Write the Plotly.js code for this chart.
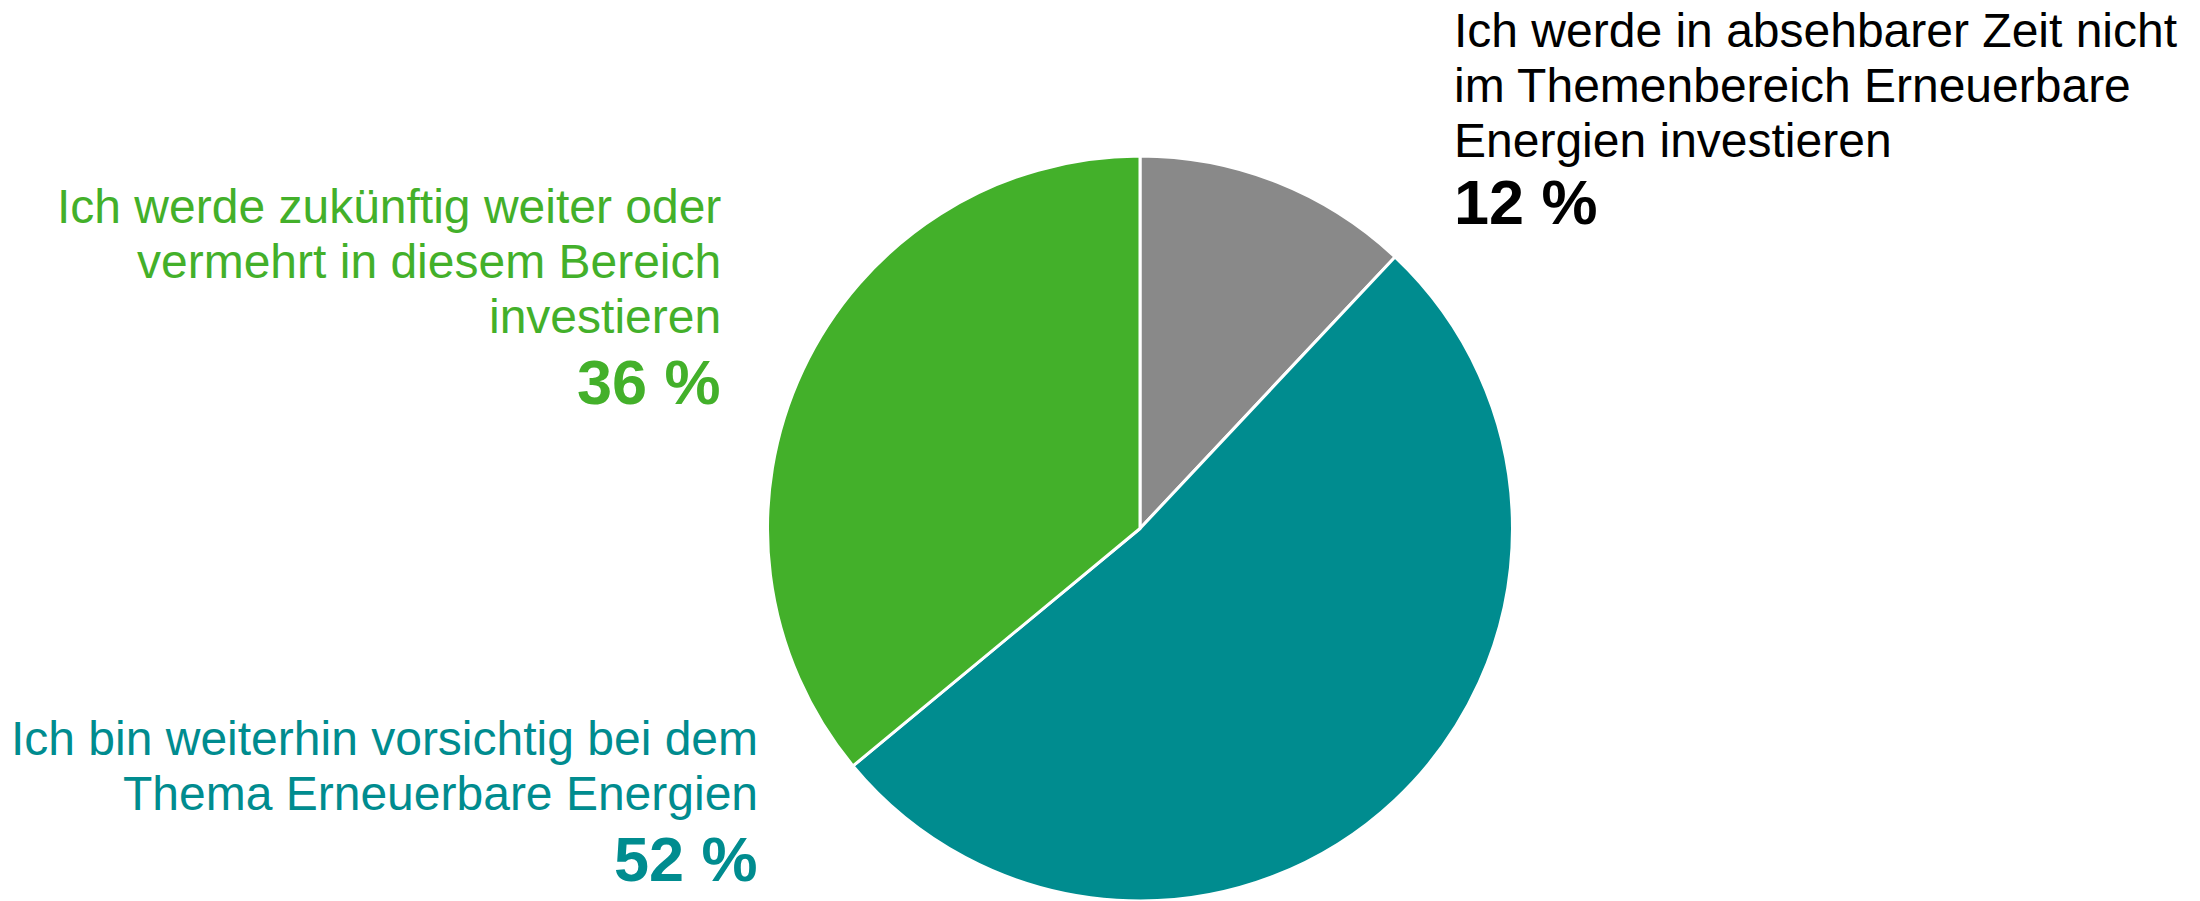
<!DOCTYPE html>
<html>
<head>
<meta charset="utf-8">
<script src="https://cdn.plot.ly/plotly-3.0.1.min.js"></script>
<style>
  html, body { margin: 0; padding: 0; background: #ffffff; }
  #chart { width: 2200px; height: 901px; }
</style>
</head>
<body>
<div id="chart"></div>
<script>
// ---- data ----
const categories = [
  "Ich werde in absehbarer Zeit nicht<br>im Themenbereich Erneuerbare<br>Energien investieren",
  "Ich bin weiterhin vorsichtig bei dem<br>Thema Erneuerbare Energien",
  "Ich werde zukünftig weiter oder<br>vermehrt in diesem Bereich<br>investieren"
];
const values = [12, 52, 36];
const colors = ["#898989", "#008C8F", "#43B02A"];
const labelColors = ["#000000", "#008C8F", "#43B02A"];

// ---- layout helpers (pixel placement of the outside labels) ----
const W = 2200, H = 901;
const FONT = "'Liberation Sans', Arial, sans-serif";
const textSize = 48, pctSize = 63, lineGap = 55;
// anchor: x pixel, align side, first baseline, percent baseline
const labelPlacement = [
  {x: 1454, side: "left",  base: 47,  pctBase: 224},
  {x: 758,  side: "right", base: 755, pctBase: 881},
  {x: 721,  side: "right", base: 223, pctBase: 404}
];

const annotations = [];
function addLine(text, xpx, side, baseline, size, color, bold) {
  const center = baseline - 0.3465 * size;
  annotations.push({
    xref: "paper", yref: "paper",
    x: xpx / W, y: 1 - center / H,
    xanchor: side, yanchor: "middle",
    text: bold ? "<b>" + text + "</b>" : text,
    showarrow: false, borderpad: 0, borderwidth: 0,
    align: side,
    font: {family: FONT, size: size, color: color}
  });
}
categories.forEach((cat, i) => {
  const p = labelPlacement[i];
  cat.split("<br>").forEach((ln, k) => {
    addLine(ln, p.x, p.side, p.base + k * lineGap, textSize, labelColors[i], false);
  });
  addLine(values[i] + " %", p.x, p.side, p.pctBase, pctSize, labelColors[i], true);
});

// pie geometry: centre (1140, 529), radius 373
const cx = 1140, cy = 529, r = 373;
const trace = {
  type: "pie",
  labels: categories,
  values: values,
  sort: false,
  direction: "clockwise",
  rotation: 0,
  textinfo: "none",
  hoverinfo: "label+percent",
  showlegend: false,
  marker: {colors: colors, line: {color: "#ffffff", width: 3}},
  domain: {
    x: [(cx - r) / W, (cx + r) / W],
    y: [Math.max(0, (H - cy - r) / H), (H - cy + r) / H]
  }
};

const layout = {
  width: W, height: H,
  margin: {l: 0, r: 0, t: 0, b: 0},
  paper_bgcolor: "#ffffff",
  plot_bgcolor: "#ffffff",
  showlegend: false,
  font: {family: FONT},
  annotations: annotations
};

Plotly.newPlot("chart", [trace], layout, {displayModeBar: false, staticPlot: true});
</script>
</body>
</html>
